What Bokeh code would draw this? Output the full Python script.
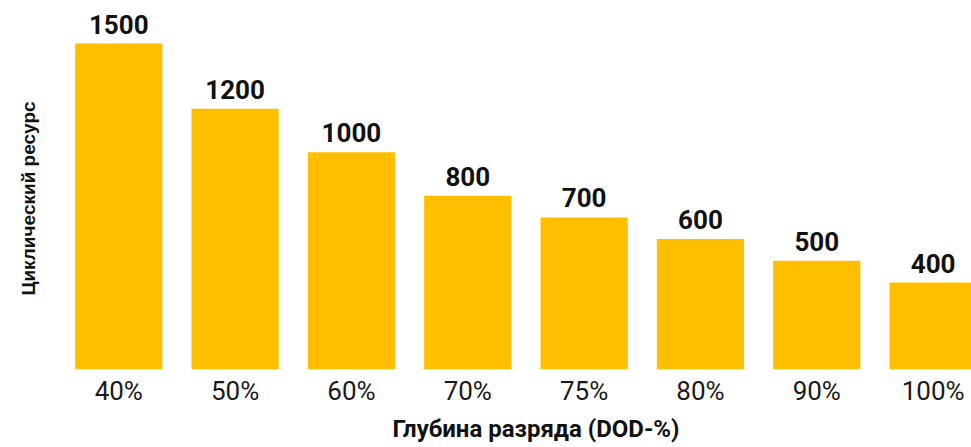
from bokeh.plotting import figure
from bokeh.models import Range1d, FixedTicker, ColumnDataSource, Title
from bokeh.core.properties import value
from bokeh.embed import file_html
from bokeh.resources import INLINE

categories = ["40%", "50%", "60%", "70%", "75%", "80%", "90%", "100%"]
cycles = [1500, 1200, 1000, 800, 700, 600, 500, 400]
value_labels = [str(v) for v in cycles]
x_title = "Глубина разряда (DOD-%)"
y_title = "Циклический ресурс"

xs = list(range(len(categories)))
source = ColumnDataSource(dict(x=xs, top=cycles, label=value_labels))

p = figure(width=971, height=447, output_backend="svg", toolbar_location=None,
           x_range=Range1d(-0.63, 7.33), y_range=Range1d(0, 1698),
           min_border_left=45, min_border_right=0, min_border_top=0,
           min_border_bottom=78)
p.outline_line_color = None
p.xgrid.visible = False
p.ygrid.visible = False
p.yaxis.visible = False

p.vbar(x="x", top="top", width=0.75, bottom=0, source=source,
       fill_color="#FFBF00", line_color=None)
p.text(x="x", y="top", text="label", source=source, text_align="center",
       text_baseline="bottom", y_offset=-10, text_font=value("Roboto"),
       text_font_style="bold", text_font_size="26px", text_color="#111111")

xa = p.xaxis[0]
xa.ticker = FixedTicker(ticks=xs)
xa.major_label_overrides = {i: c for i, c in enumerate(categories)}
xa.axis_line_color = None
xa.major_tick_line_color = None
xa.minor_tick_line_color = None
xa.major_tick_in = 0
xa.major_tick_out = 0
xa.major_label_standoff = 6
xa.major_label_text_font = "Roboto"
xa.major_label_text_font_size = "26px"
xa.major_label_text_color = "#1a1a1a"

p.add_layout(Title(text=x_title, align="left", offset=347,
                   text_font="Roboto", text_font_style="bold",
                   text_font_size="24px", text_color="#111111", standoff=8),
             "below")

p.add_layout(Title(text=y_title, align="left", offset=74,
                   text_font="Liberation Sans", text_font_style="bold",
                   text_font_size="19px", text_color="#111111", standoff=13),
             "left")

open("out.html", "w").write(file_html(p, INLINE))
